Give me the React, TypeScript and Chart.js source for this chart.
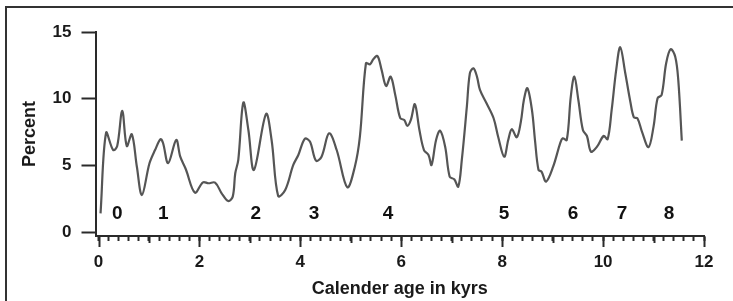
import React, { useEffect, useRef } from "react";
import { Chart, registerables } from "chart.js";

Chart.register(...registerables);

// Calendar age (kyrs) and percent values
const ageKyrs = [
  0.04, 0.15, 0.29, 0.37, 0.47, 0.56, 0.66, 0.76, 0.86, 1.01, 1.12, 1.23, 1.28, 1.38, 1.54, 1.62, 1.73, 1.91,
  2.07, 2.18, 2.31, 2.44, 2.57, 2.66, 2.71, 2.77, 2.87, 2.97, 3.08, 3.32, 3.43, 3.56, 3.70, 3.86, 3.96,
  4.09, 4.19, 4.31, 4.42, 4.57, 4.72, 4.93, 5.08, 5.18, 5.30, 5.38, 5.45, 5.53, 5.61, 5.70, 5.79, 5.88,
  5.98, 6.06, 6.12, 6.19, 6.27, 6.36, 6.45, 6.54, 6.60, 6.69, 6.77, 6.87, 6.96, 7.05, 7.13, 7.20, 7.30,
  7.36, 7.43, 7.50, 7.56, 7.69, 7.83, 7.92, 8.04, 8.12, 8.19, 8.29, 8.37, 8.43, 8.50, 8.59, 8.65, 8.72,
  8.78, 8.87, 9.01, 9.15, 9.20, 9.28, 9.36, 9.43, 9.51, 9.60, 9.68, 9.76, 9.88, 10.01, 10.09, 10.17,
  10.26, 10.34, 10.44, 10.54, 10.61, 10.68, 10.77, 10.90, 11.0, 11.08, 11.16, 11.25, 11.34, 11.43,
  11.49, 11.56,
];
const percentValues = [
  1.42, 7.45, 6.16, 6.46, 9.09, 6.46, 7.34, 4.91, 2.79, 5.17, 6.16, 6.97, 6.67, 5.17, 6.91, 5.66, 4.72, 2.97,
  3.74, 3.67, 3.72, 2.92, 2.34, 2.67, 4.42, 5.42, 9.71, 7.66, 4.67, 8.86, 6.91, 2.72, 3.17, 5.04, 5.79,
  7.01, 6.79, 5.36, 5.66, 7.41, 6.16, 3.37, 4.91, 7.16, 12.66, 12.58, 12.98, 13.2, 12.16, 10.96, 11.66, 10.3,
  8.54, 8.41, 7.96, 8.41, 9.59, 7.66, 6.16, 5.79, 5.04, 6.91, 7.61, 6.41, 4.16, 3.97, 3.42, 5.42, 9.41,
  11.91, 12.28, 11.66, 10.66, 9.66, 8.54, 7.16, 5.66, 6.91, 7.72, 7.12, 8.28, 9.91, 10.79, 9.16, 6.91, 4.67,
  4.54, 3.79, 4.91, 6.67, 7.04, 6.91, 10.16, 11.66, 9.91, 7.66, 7.21, 6.04, 6.41, 7.21, 6.97, 9.16,
  12.16, 13.86, 11.91, 9.78, 8.61, 8.54, 7.54, 6.37, 7.91, 10.04, 10.28, 12.66, 13.71, 13.15,
  11.41, 6.86,
];

// Numbered event labels placed on the plot
const eventLabels = ["0", "1", "2", "3", "4", "5", "6", "7", "8"];
const eventAges = [0.37, 1.285, 3.116, 4.272, 5.738, 8.039, 9.405, 10.376, 11.308];
const eventLevel = [1.42, 1.42, 1.42, 1.42, 1.42, 1.42, 1.42, 1.42, 1.42];

// Axis ticks
const xMajorTicks = [0, 2, 4, 6, 8, 10, 12];
const xMediumTicks = [1, 3, 5, 7, 9, 11];
const xMinorStep = 0.2;
const yTicks = [0, 5, 10, 15];

const FONT = "'Liberation Sans', Arial, sans-serif";
const AXIS_COLOR = "#2a2a2a";

export default function App() {
  const ref = useRef<HTMLCanvasElement | null>(null);

  useEffect(() => {
    if (!ref.current) return;

    const extras = {
      id: "extras",
      afterDraw(chart: any) {
        const { ctx, scales } = chart;
        const xs = scales.x;
        const ys = scales.y;
        ctx.save();
        ctx.strokeStyle = AXIS_COLOR;
        ctx.lineWidth = 2;
        const axisY = chart.chartArea.bottom;
        const tick = (v: number, len: number) => {
          const px = Math.round(xs.getPixelForValue(v)) + 0.5;
          ctx.beginPath();
          ctx.moveTo(px, axisY);
          ctx.lineTo(px, axisY + len);
          ctx.stroke();
        };
        xMajorTicks.forEach((v) => tick(v, 11));
        xMediumTicks.forEach((v) => tick(v, 7));
        // event numbers
        ctx.fillStyle = "#111";
        ctx.font = `bold 19px ${FONT}`;
        ctx.textAlign = "center";
        ctx.textBaseline = "middle";
        eventLabels.forEach((t, i) => {
          ctx.fillText(t, xs.getPixelForValue(eventAges[i]), ys.getPixelForValue(eventLevel[i]));
        });
        ctx.restore();
      },
    };

    const minorTicks: number[] = [];
    for (let i = 0; i <= 60; i++) minorTicks.push(Math.round(i * xMinorStep * 10) / 10);

    const chart = new Chart(ref.current, {
      type: "line",
      data: {
        datasets: [
          {
            data: ageKyrs.map((x, i) => ({ x, y: percentValues[i] })),
            borderColor: "#555555",
            borderWidth: 2.2,
            pointRadius: 0,
            tension: 0.35,
            fill: false,
          },
        ],
      },
      options: {
        animation: false,
        responsive: false,
        maintainAspectRatio: false,
        layout: { padding: { left: 0, top: 32, right: 29, bottom: 0 } },
        plugins: { legend: { display: false }, tooltip: { enabled: false } },
        scales: {
          x: {
            type: "linear",
            min: -0.06,
            max: 12,
            afterBuildTicks: (scale: any) => {
              scale.ticks = minorTicks.map((v) => ({ value: v }));
            },
            afterFit: (scale: any) => {
              scale.height = 65;
            },
            grid: {
              drawOnChartArea: false,
              drawTicks: true,
              tickLength: 5,
              tickWidth: 2,
              tickColor: AXIS_COLOR,
            },
            border: { display: true, color: AXIS_COLOR, width: 2 },
            ticks: {
              autoSkip: false,
              maxRotation: 0,
              padding: 11,
              color: "#1a1a1a",
              font: { family: FONT, size: 17, weight: "bold" },
              callback: (v: any) => {
                const n = Number(v);
                return xMajorTicks.some((m) => Math.abs(m - n) < 1e-6) ? String(Math.round(n)) : "";
              },
            },
            title: {
              display: true,
              text: "Calender age in kyrs",
              color: "#1a1a1a",
              font: { family: FONT, size: 18, weight: "bold" },
              padding: { top: 0, bottom: 1 },
            },
          },
          y: {
            type: "linear",
            min: -0.28,
            max: 15,
            afterBuildTicks: (scale: any) => {
              scale.ticks = yTicks.map((v) => ({ value: v }));
            },
            afterFit: (scale: any) => {
              scale.width = 95.5;
            },
            grid: {
              drawOnChartArea: false,
              drawTicks: true,
              tickLength: 14,
              tickWidth: 2,
              tickColor: AXIS_COLOR,
            },
            border: { display: true, color: AXIS_COLOR, width: 2 },
            ticks: {
              padding: 10,
              color: "#1a1a1a",
              font: { family: FONT, size: 17, weight: "bold" },
            },
            title: {
              display: true,
              text: "Percent",
              color: "#1a1a1a",
              font: { family: FONT, size: 18, weight: "bold" },
              padding: { top: 19, bottom: 0 },
            },
          },
        },
      },
      plugins: [extras],
    });

    return () => chart.destroy();
  }, []);

  return (
    <div style={{ position: "fixed", left: 0, top: 0, width: 733, height: 301, background: "#fff", overflow: "hidden" }}>
      <div
        style={{
          position: "absolute",
          left: 5,
          top: 6,
          width: 760,
          height: 330,
          border: "2px solid #333",
          boxSizing: "border-box",
        }}
      />
      <canvas ref={ref} width={733} height={301} style={{ position: "absolute", left: 0, top: 0 }} />
    </div>
  );
}
